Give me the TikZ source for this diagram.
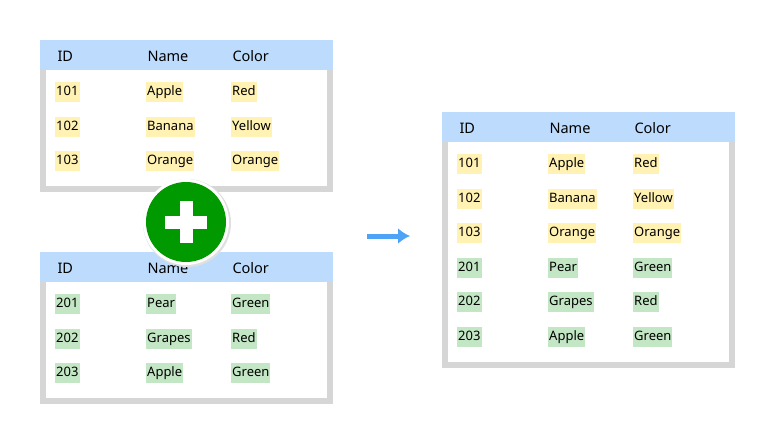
\documentclass[tikz,border=0pt]{standalone}
\usetikzlibrary{arrows.meta}
\usepackage{fontspec}
\setmainfont{Noto Sans}
\begin{document}
\begin{tikzpicture}[x=1pt,y=-1pt,
  hdr/.style={anchor=west,font=\fontsize{14.5}{16}\selectfont},
  cell/.style={anchor=west,inner xsep=1pt,inner ysep=0pt,minimum height=20pt,text height=10pt,text depth=3pt,font=\fontsize{13}{15}\selectfont}]
\useasboundingbox (0,0) rectangle (776,444);
\definecolor{hb}{HTML}{BDDCFD}
\definecolor{fr}{HTML}{D6D6D6}
\definecolor{yb}{HTML}{FFF2B3}
\definecolor{gb}{HTML}{C3E6C4}
\definecolor{ar}{HTML}{4DA3F5}
\tikzset{yl/.style={cell,fill=yb},gr/.style={cell,fill=gb}}
\newcommand\tbl[5]{%
  \fill[fr] (#1,#2) rectangle ++(293,#3);
  \fill[white] (#1+6,#2) rectangle ++(281,#3-6);
  \fill[hb] (#1,#2) rectangle ++(293,30);
  \node[hdr] (#4h1) at (#1+14,#2+16) {ID};
  \node[hdr] (#4h2) at (#1+104,#2+16) {Name};
  \node[hdr] (#4h3) at (#1+189,#2+16) {Color};
  \foreach \a/\b/\c/\s [count=\i] in {#5}{
    \node[\s] (#4r\i a) at (#1+15,#2+52+34.5*\i-34.5) {\a};
    \node[\s] (#4r\i b) at (#1+106,#2+52+34.5*\i-34.5) {\b};
    \node[\s] (#4r\i c) at (#1+191,#2+52+34.5*\i-34.5) {\c};}}
\tbl{40}{40}{152}{A}{101/Apple/Red/yl,102/Banana/Yellow/yl,103/Orange/Orange/yl}
\tbl{40}{252}{152}{B}{201/Pear/Green/gr,202/Grapes/Red/gr,203/Apple/Green/gr}
\tbl{442}{112}{256}{C}{101/Apple/Red/yl,102/Banana/Yellow/yl,103/Orange/Orange/yl,201/Pear/Green/gr,202/Grapes/Red/gr,203/Apple/Green/gr}
\fill[black!12] (187,223) circle (44);
\node[circle,fill=white,minimum size=86pt,inner sep=0pt] (plusbg) at (186,222) {};
\node[circle,fill=green!60!black,minimum size=80pt,inner sep=0pt] (plus) at (186,222) {};
\fill[white] (plus.center) ++(-21,-6.5) rectangle ++(42,13);
\fill[white] (plus.center) ++(-6.5,-21) rectangle ++(13,42);
\coordinate (a1) at (367,236);
\coordinate (a2) at (410,236);
\draw[draw=ar,line width=5pt,-{Latex[length=12pt,width=16pt]}] (a1) -- (a2);
\end{tikzpicture}
\end{document}
